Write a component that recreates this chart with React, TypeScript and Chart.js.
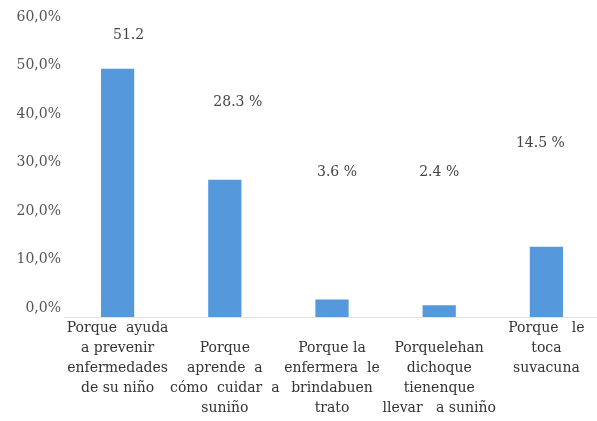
import React, { useEffect, useRef } from "react";
import { Chart, registerables } from "chart.js";

Chart.register(...registerables);

const categories: string[][] = [
  ["Porque  ayuda", "a prevenir", "enfermedades", "de su niño"],
  ["", "Porque", "aprende  a", "cómo  cuidar  a", "suniño"],
  ["", "Porque la", "enfermera  le", "brindabuen", "trato"],
  ["", "Porquelehan", "dichoque", "tienenque", "llevar   a suniño"],
  ["Porque   le", "toca", "suvacuna"],
];
const values: number[] = [51.2, 28.3, 3.6, 2.4, 14.5];
const valueLabels: string[] = ["51.2", "28.3 %", "3.6 %", "2.4 %", "14.5 %"];
const yTicks: number[] = [0, 10, 20, 30, 40, 50, 60];

const freeLabels = {
  id: "freeLabels",
  afterDatasetsDraw(chart: any, _args: any, opts: any) {
    const { ctx } = chart;
    const xs = chart.scales.x;
    const ys = chart.scales.y;
    ctx.save();
    ctx.font = opts.font;
    ctx.fillStyle = opts.color;
    ctx.textAlign = "center";
    ctx.textBaseline = "middle";
    valueLabels.forEach((t, i) => {
      const x = xs.getPixelForValue(i) + opts.dx[i];
      const y = ys.getPixelForValue(opts.level[i]);
      ctx.fillText(t, x, y);
    });
    ctx.restore();
  },
};

export default function App() {
  const ref = useRef<HTMLCanvasElement>(null);
  useEffect(() => {
    if (!ref.current) return;
    const chart = new Chart(ref.current, {
      type: "bar",
      data: {
        labels: categories,
        datasets: [
          {
            data: values,
            backgroundColor: "#5598dc",
            barPercentage: 0.31,
            categoryPercentage: 1,
          },
        ],
      },
      options: {
        animation: false,
        responsive: false,
        layout: { padding: { top: 26, left: 0, right: 0, bottom: 0 } },
        plugins: {
          legend: { display: false },
          tooltip: { enabled: false },
          freeLabels: {
            font: "14px 'DejaVu Serif'",
            color: "#444444",
            dx: [11, 13, 5, 0, -6],
            level: [58.1, 44.3, 29.9, 29.9, 35.9],
          },
        } as any,
        scales: {
          x: {
            grid: { display: false, drawTicks: false },
            border: { display: true, color: "#e2e2e2" },
            ticks: {
              maxRotation: 0,
              autoSkip: false,
              padding: 1,
              color: "#333333",
              font: { family: "'DejaVu Serif'", size: 14, lineHeight: 1.43 },
            },
            afterFit: (s: any) => {
              s.height = 104;
            },
          },
          y: {
            min: 0,
            max: 60,
            afterBuildTicks: (s: any) => {
              s.ticks = yTicks.map((v) => ({ value: v }));
            },
            grid: { display: false, drawTicks: false },
            border: { display: false },
            ticks: {
              padding: 3,
              labelOffset: -9,
              color: "#555555",
              font: { family: "'DejaVu Serif'", size: 14 },
              callback: (v: any) => Number(v).toFixed(1).replace(".", ",") + "%",
            },
            afterFit: (s: any) => {
              s.width = 64;
              s.paddingTop = 0;
              s.paddingBottom = 0;
            },
          },
        },
      },
      plugins: [freeLabels],
    });
    return () => chart.destroy();
  }, []);
  return (
    <div style={{ position: "fixed", left: 0, top: 0, width: 597, height: 421, overflow: "hidden", background: "#fff" }}>
      <canvas ref={ref} width={600} height={421} style={{ display: "block" }} />
    </div>
  );
}
